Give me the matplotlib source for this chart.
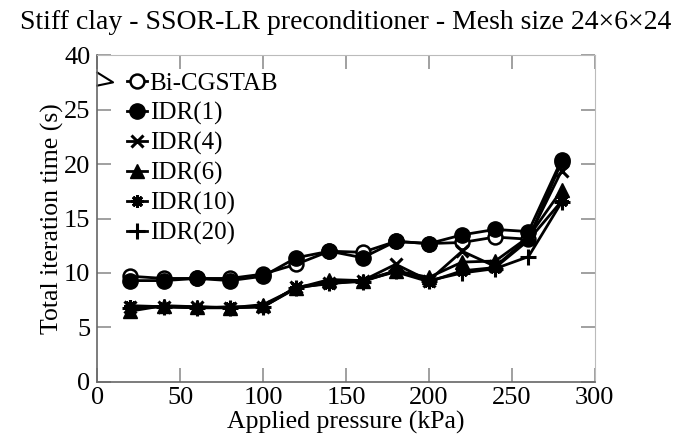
import matplotlib.pyplot as plt

plt.rcParams['font.family'] = ['Liberation Serif', 'DejaVu Serif']

pressure = [20, 40, 60, 80, 100, 120, 140, 160, 180, 200, 220, 240, 260, 280]

bicgstab = [9.7, 9.5, 9.5, 9.5, 9.9, 10.8, 12.0, 11.9, 12.9, 12.7, 12.8, 13.3, 13.1, 20.2]
idr1 = [9.3, 9.3, 9.5, 9.3, 9.7, 11.4, 12.0, 11.4, 12.9, 12.7, 13.5, 14.0, 13.8, 20.4]
idr4 = [6.9, 6.9, 6.9, 6.8, 6.9, 8.7, 9.1, 9.3, 10.8, 9.3, 12.0, 10.6, 13.2, 19.4]
idr6 = [6.5, 7.0, 6.9, 6.8, 7.1, 8.6, 9.4, 9.3, 10.2, 9.6, 11.0, 11.1, 13.3, 17.6]
idr10 = [7.0, 6.9, 6.8, 6.9, 6.9, 8.7, 9.0, 9.3, 10.1, 9.2, 10.2, 10.5, 13.0, 16.6]
idr20 = [6.8, 6.9, 6.8, 6.8, 6.9, 8.6, 9.1, 9.2, 10.2, 9.3, 10.0, 10.4, 11.5, 16.5]

# y axis is broken above 25: the top tick carries the label 40
ytick_pos = [0, 5, 10, 15, 20, 25, 30]
ytick_labels = ['0', '5', '10', '15', '20', '25', '40']

fig = plt.figure(figsize=(6.9, 4.41), dpi=100)
ax = fig.add_axes([0.141, 0.134, 0.721, 0.741])

lw = 2
ax.plot(pressure, bicgstab, color='black', lw=lw, marker='o', ms=10,
        mfc='white', mec='black', mew=1.8, label='Bi-CGSTAB')
ax.plot(pressure, idr1, color='black', lw=lw, marker='o', ms=11,
        mfc='black', mec='black', label='IDR(1)')
ax.plot(pressure, idr4, color='black', lw=lw, marker='x', ms=9,
        mew=2.2, label='IDR(4)')
ax.plot(pressure, idr6, color='black', lw=lw, marker='^', ms=10,
        mfc='black', mec='black', label='IDR(6)')
ax.plot(pressure, idr10, color='black', lw=lw, marker=(8, 2, 0), ms=9,
        mew=2.2, label='IDR(10)')
ax.plot(pressure, idr20, color='black', lw=lw, marker='+', ms=11,
        mew=2.2, label='IDR(20)')

ax.set_xlim(0, 300)
ax.set_ylim(0, 30)
ax.set_xticks(range(0, 301, 50))
ax.set_yticks(ytick_pos)
ax.set_yticklabels(ytick_labels)

for side in ['top', 'right']:
    ax.spines[side].set_color('#bbbbbb')
for side in ['left', 'bottom']:
    ax.spines[side].set_color('#666666')
    ax.spines[side].set_linewidth(1.2)
ax.tick_params(direction='in', length=10, width=1.3, color='#999999',
               labelsize=19, top=True, right=True)
ax.tick_params(axis='x', pad=4)
ax.tick_params(axis='y', pad=5)

# axis break mark on the left spine
ax.plot([0, 9.5, 0], [28.4, 27.5, 27.2], color='black', lw=1.5, clip_on=False)

ax.set_xlabel('Applied pressure (kPa)', fontsize=18.5, labelpad=1)
ax.set_ylabel('Total iteration time (s)', fontsize=18.5, labelpad=0)
ax.set_title('Stiff clay - SSOR-LR preconditioner - Mesh size 24\u00d76\u00d724',
             fontsize=20, pad=19)

ax.legend(loc='upper left', bbox_to_anchor=(0.035, 0.985), frameon=False,
          fontsize=18, handlelength=0.8, handletextpad=0.1, labelspacing=0.28,
          borderpad=0)

fig.savefig('out.png', dpi=100)
